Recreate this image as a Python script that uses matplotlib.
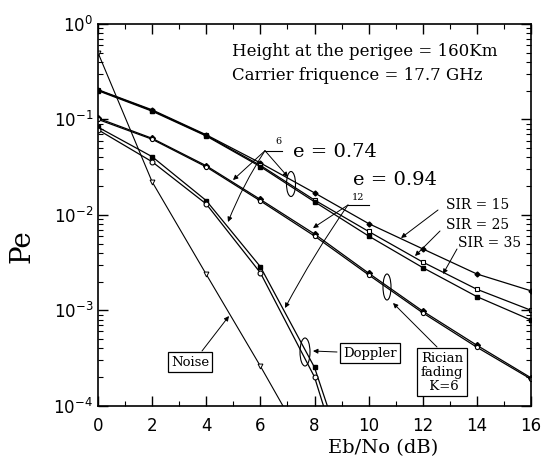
from matplotlib import pyplot as plt
from matplotlib.patches import Ellipse
from matplotlib.ticker import MultipleLocator, LogLocator, NullFormatter

# Eb/No axis (dB)
ebno = [0, 2, 4, 6, 8, 10, 12, 14, 16]
ebno_doppler = [0, 2, 4, 6, 8, 10]
ebno_noise = [0, 2, 4, 6, 8]

# e = 0.74 family, different SIR
pe_sir15 = [0.205, 0.126, 0.069, 0.035, 0.017, 0.0081, 0.0044, 0.0024, 0.0016]
pe_sir25 = [0.203, 0.124, 0.068, 0.033, 0.0143, 0.0067, 0.0032, 0.00166, 0.00100]
pe_sir35 = [0.200, 0.122, 0.067, 0.032, 0.0137, 0.0060, 0.0028, 0.00139, 0.00079]

# Rician fading K=6
pe_rician_a = [0.103, 0.0634, 0.0327, 0.0145, 0.0063, 0.00245, 0.00098, 0.00043, 0.000196]
pe_rician_b = [0.100, 0.0620, 0.0318, 0.0140, 0.0060, 0.00235, 0.00094, 0.00041, 0.000190]

# Doppler
pe_doppler_a = [0.083, 0.0407, 0.0141, 0.00286, 0.000252, 5e-6]
pe_doppler_b = [0.078, 0.0360, 0.0130, 0.00247, 0.000200, 3e-6]

# Noise only
pe_noise = [0.5, 0.0222, 0.00238, 0.00026, 2.6e-5]

W, H = 542, 469
SERIF = 'DejaVu Serif'


def fp(px, py):
    """pixel position in the picture -> figure fraction"""
    return (px / W, 1 - py / H)


fig = plt.figure(figsize=(W / 100, H / 100), dpi=100)
ax = fig.add_axes([98 / W, 1 - 405.7 / H, (531 - 98) / W, (405.7 - 24) / H])

lw = 0.9
ax.plot(ebno, pe_sir15, color='k', lw=lw, marker='D', ms=2.5, mfc='k')
ax.plot(ebno, pe_sir25, color='k', lw=lw, marker='s', ms=3.5, mfc='white', mew=0.8)
ax.plot(ebno, pe_sir35, color='k', lw=lw, marker='s', ms=3.5, mfc='k')
ax.plot(ebno, pe_rician_a, color='k', lw=lw, marker='D', ms=3, mfc='k')
ax.plot(ebno, pe_rician_b, color='k', lw=lw, marker='o', ms=3, mfc='white', mew=0.8)
ax.plot(ebno_doppler, pe_doppler_a, color='k', lw=lw, marker='s', ms=3.5, mfc='k')
ax.plot(ebno_doppler, pe_doppler_b, color='k', lw=lw, marker='o', ms=3.5, mfc='white', mew=0.8)
ax.plot(ebno_noise, pe_noise, color='k', lw=0.8, marker='v', ms=3.5, mfc='white', mew=0.7)

ax.set_yscale('log')
ax.set_xlim(0, 16)
ax.set_ylim(1e-4, 1)
ax.xaxis.set_major_locator(MultipleLocator(2))
ax.xaxis.set_minor_locator(MultipleLocator(1))
ax.yaxis.set_major_locator(LogLocator(base=10, numticks=10))
ax.yaxis.set_minor_locator(LogLocator(base=10, subs=range(2, 10), numticks=10))
ax.yaxis.set_minor_formatter(NullFormatter())
ax.tick_params(which='both', direction='in', top=True, right=True, labelsize=12)
ax.tick_params(which='major', length=7, width=1)
ax.tick_params(which='minor', length=3.5, width=0.8)
ax.tick_params(axis='x', pad=8)
for sp in ax.spines.values():
    sp.set_linewidth(1.2)

fig.text(*fp(22, 246), 'Pe', family=SERIF, fontsize=20, rotation=90,
         ha='center', va='center')
fig.text(*fp(383, 448), 'Eb/No (dB)', family=SERIF, fontsize=14,
         ha='center', va='center')

# header text
fig.text(*fp(232, 52), 'Height at the perigee = 160Km', family=SERIF,
         fontsize=12, va='center')
fig.text(*fp(232, 76), 'Carrier friquence = 17.7 GHz', family=SERIF,
         fontsize=12, va='center')

fig.text(*fp(293, 152), 'e = 0.74', family=SERIF, fontsize=14, va='center')
fig.text(*fp(353, 180), 'e = 0.94', family=SERIF, fontsize=14, va='center')
fig.text(*fp(278, 141), '6', family=SERIF, fontsize=7, ha='center', va='center')
fig.text(*fp(358, 197), '12', family=SERIF, fontsize=7, ha='center', va='center')

# underlines of the small labels
fig.add_artist(plt.Line2D([265 / W, 282 / W], [1 - 150.7 / H] * 2, color='k', lw=0.8))
fig.add_artist(plt.Line2D([348 / W, 369 / W], [1 - 205 / H] * 2, color='k', lw=0.8))

arrow = dict(arrowstyle='-|>', color='k', lw=0.7, mutation_scale=7, shrinkA=0, shrinkB=0)


def pointer(start, end, rad=0.0):
    props = dict(arrow)
    props['connectionstyle'] = f'arc3,rad={rad}'
    fig.add_artist(plt.Annotation('', xy=fp(*end), xycoords='figure fraction',
                                  xytext=fp(*start), textcoords='figure fraction',
                                  arrowprops=props))


# e = 0.74 arrows
pointer((265, 150.7), (233, 180))
pointer((265, 150.7), (228, 222), rad=0.05)
pointer((265, 150.7), (288, 177))
# e = 0.94 arrows
pointer((348, 205), (313, 228))
pointer((348, 205), (285, 308), rad=0.03)

# SIR labels
fig.text(*fp(446, 205), 'SIR = 15', family=SERIF, fontsize=10, va='center')
fig.text(*fp(446, 225), 'SIR = 25', family=SERIF, fontsize=10, va='center')
fig.text(*fp(458, 243), 'SIR = 35', family=SERIF, fontsize=10, va='center')
pointer((438, 210), (401, 238))
pointer((440, 231), (415, 256))
pointer((457, 249), (443, 274))

# ellipses
for cx, cy, w, h in [(291, 184, 9, 25), (387, 287, 8, 26), (305, 352, 10, 28)]:
    fig.add_artist(Ellipse(fp(cx, cy), w / W, h / H, transform=fig.transFigure,
                           fill=False, edgecolor='k', lw=0.8))

box = dict(boxstyle='square,pad=0.25', fc='white', ec='k', lw=0.9)
fig.text(*fp(190, 362), 'Noise', family=SERIF, fontsize=9.5, ha='center',
         va='center', bbox=box)
pointer((202, 351), (229, 316))
fig.text(*fp(370, 353), 'Doppler', family=SERIF, fontsize=9.5, ha='center',
         va='center', bbox=box)
pointer((337, 352), (313, 351))
fig.text(*fp(442, 372), 'Rician\nfading\n K=6', family=SERIF, fontsize=9.5,
         ha='center', va='center', linespacing=1.1, bbox=box)
pointer((437, 347), (393, 303))

fig.savefig('out.png', dpi=100)
